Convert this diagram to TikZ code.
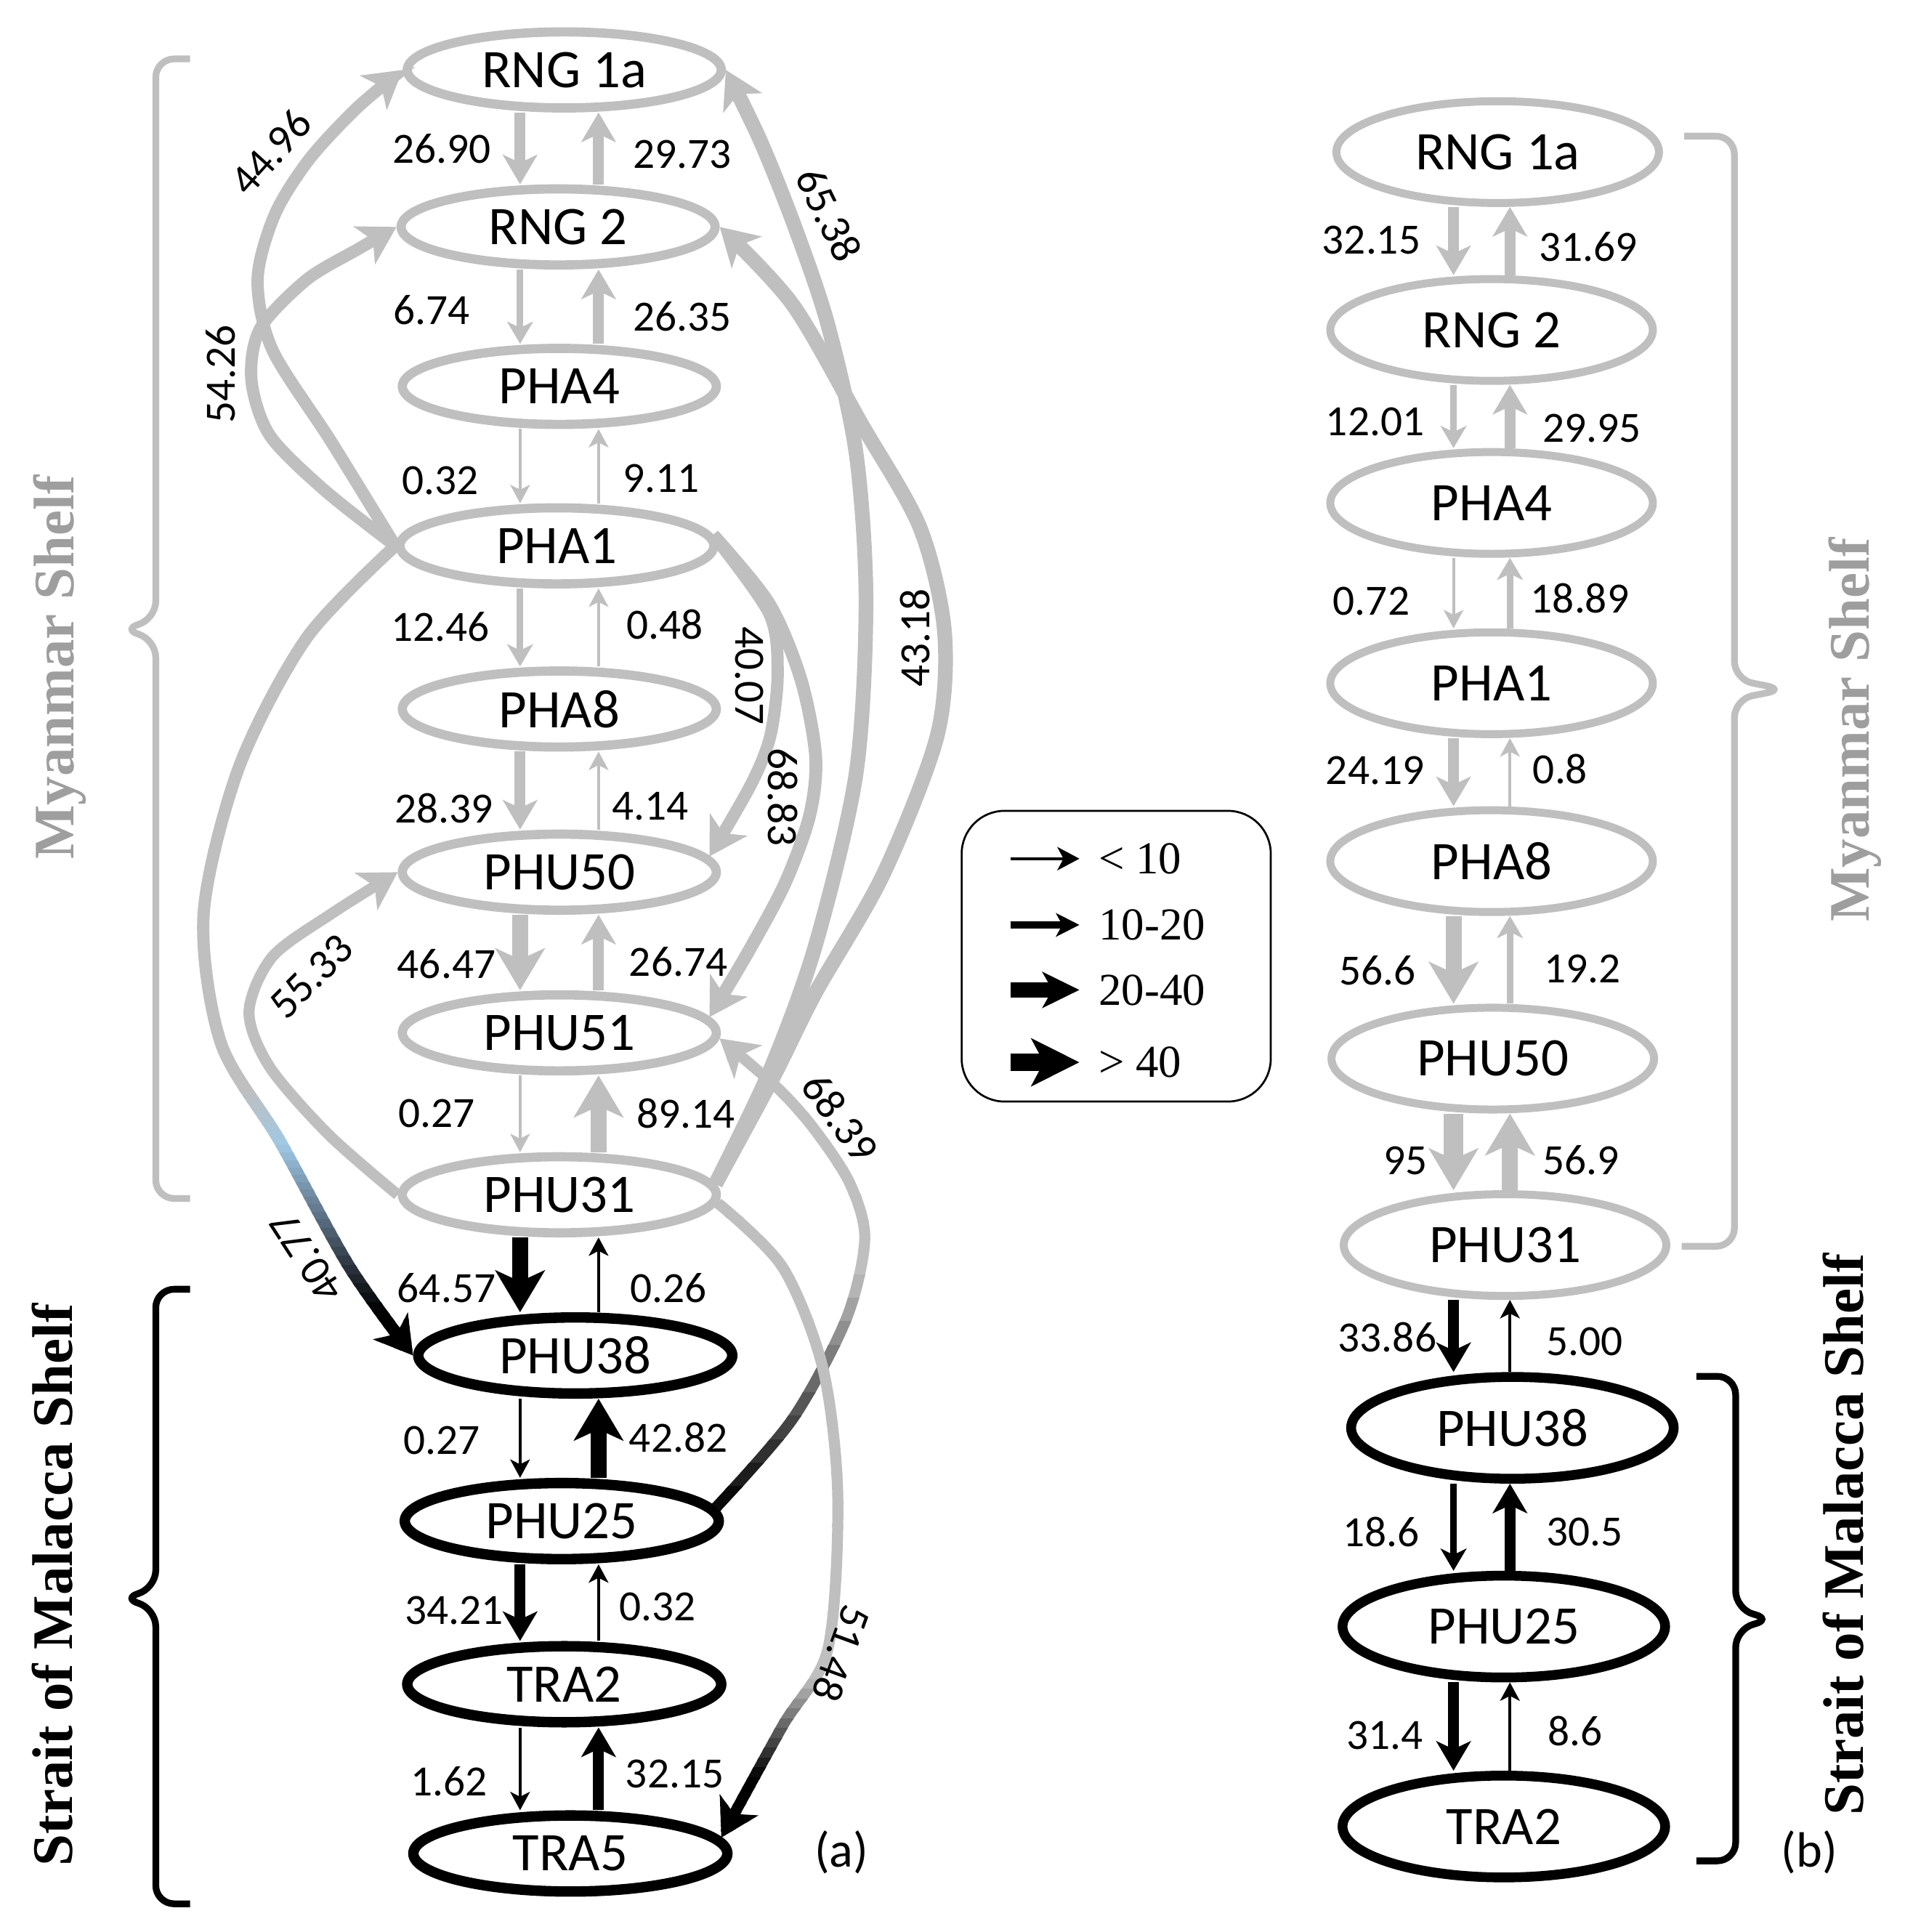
\documentclass[tikz,border=0pt]{standalone}
\usepackage{fontspec}
\setmainfont{Carlito}
\newfontfamily\seriffont{Liberation Serif}
\usetikzlibrary{shapes.geometric,arrows.meta}

\definecolor{shelfgrey}{RGB}{191,191,191}
\definecolor{titlegrey}{RGB}{158,158,158}
\definecolor{paleblue}{RGB}{160,200,228}
\definecolor{duskblue}{RGB}{90,110,130}

% curve whose colour changes from top to bottom (bands y0/y1/colour0/colour1)
\newcommand\fadeflow[3]{%
  \foreach \ya/\yb/\ca/\cb in {#3}{%
    \foreach \k in {0,...,9}{%
      \pgfmathsetmacro\ylo{\ya+(\yb-\ya)*\k/10-1}%
      \pgfmathsetmacro\yhi{\ya+(\yb-\ya)*(\k+1)/10+1}%
      \pgfmathtruncatemacro\pc{95-10*\k}%
      \begin{scope}
        \clip (0,\ylo) rectangle (1553,\yhi);
        \draw[#1, draw=\ca!\pc!\cb] #2;
      \end{scope}%
    }%
  }%
}

\tikzset{
  site/.style={ellipse, draw=shelfgrey, line width=0.75mm, minimum width=25.6mm, minimum height=6.2mm, inner sep=0pt, font=\fontsize{12.6}{14}\selectfont},
  malacca/.style={draw=black, line width=0.85mm},
  bsite/.style={site, line width=0.65mm, minimum width=26.3mm, minimum height=8.3mm},
  bmalacca/.style={draw=black, line width=0.8mm},
  num/.style={inner sep=0pt, font=\fontsize{10}{12}\selectfont},
  fluxa/.style={line width=0.24mm, -{Stealth[length=1.5mm, width=1.6mm, inset=0.4mm]}},
  fluxb/.style={line width=0.55mm, -{Stealth[length=1.8mm, width=2.1mm, inset=0.5mm]}},
  fluxc/.style={line width=0.9mm, -{Stealth[length=2.4mm, width=2.8mm, inset=0.65mm]}},
  fluxd/.style={line width=1.3mm, -{Stealth[length=3.4mm, width=4mm, inset=0.9mm]}},
  curveflow/.style={shelfgrey, line width=1mm, -{Stealth[length=3mm, width=3.5mm, inset=0.8mm]}},
  shelf/.style={inner sep=0pt, rotate=90, anchor=base, font=\seriffont\bfseries\fontsize{13.3}{16}\selectfont},
  shelfbrace/.style={line width=0.55mm, rounded corners=1.5mm},
  legtext/.style={inner sep=0pt, anchor=west, font=\seriffont\fontsize{10.6}{12}\selectfont},
}

\begin{document}
\begin{tikzpicture}[x=0.1mm, y=-0.1mm]
	\path[use as bounding box, fill=white] (0,0) rectangle (1553,1575);

	% brackets and shelf names
	\draw[shelfbrace, shelfgrey] (155,48) -- (127,48) -- (127,505) -- (99,513) -- (127,521) -- (127,977) -- (155,977);
	\draw[shelfbrace] (155,1051) -- (127,1051) -- (127,1295) -- (99,1303) -- (127,1311) -- (127,1552) -- (155,1552);
	\draw[shelfbrace, shelfgrey] (1373,111) -- (1414,111) -- (1414,554) -- (1455,562) -- (1414,570) -- (1414,1016) -- (1371,1016);
	\draw[shelfbrace] (1383,1122) -- (1415,1122) -- (1415,1312) -- (1445,1320) -- (1415,1328) -- (1415,1517) -- (1383,1517);
	\node[shelf, text=titlegrey] (mya) at (60,544) {Myanmar Shelf};
	\node[shelf] (mala) at (59,1292) {Strait of Malacca Shelf};
	\node[shelf, text=titlegrey] (myb) at (1524,595) {Myanmar Shelf};
	\node[shelf] (malb) at (1519,1251) {Strait of Malacca Shelf};

	% (a)
	\node[site] (RNG1a) at (460,57) {RNG 1a};
	\node[site] (RNG2) at (455,185) {RNG 2};
	\node[site] (PHA4) at (456,315) {PHA4};
	\node[site] (PHA1) at (454,445) {PHA1};
	\node[site] (PHA8) at (456,578) {PHA8};
	\node[site] (PHU50) at (456,711) {PHU50};
	\node[site] (PHU51) at (456,842) {PHU51};
	\node[site] (PHU31) at (456,974) {PHU31};
	\node[site, malacca] (PHU38) at (469,1105) {PHU38};
	\node[site, malacca] (PHU25) at (458,1240) {PHU25};
	\node[site, malacca] (TRA2) at (460,1373) {TRA2};
	\node[site, malacca] (TRA5) at (465,1511) {TRA5};
	\coordinate (dnA) at (424,0);
	\coordinate (upA) at (488,0);

	\draw[fluxc, shelfgrey] (RNG1a.south -| dnA) -- (RNG2.north -| dnA);
	\draw[fluxc, shelfgrey] (RNG2.north -| upA) -- (RNG1a.south -| upA);
	\draw[fluxb, shelfgrey] (RNG2.south -| dnA) -- (PHA4.north -| dnA);
	\draw[fluxc, shelfgrey] (PHA4.north -| upA) -- (RNG2.south -| upA);
	\draw[fluxa, shelfgrey] (PHA4.south -| dnA) -- (PHA1.north -| dnA);
	\draw[fluxa, shelfgrey] (PHA1.north -| upA) -- (PHA4.south -| upA);
	\draw[fluxb, shelfgrey] (PHA1.south -| dnA) -- (PHA8.north -| dnA);
	\draw[fluxa, shelfgrey] (PHA8.north -| upA) -- (PHA1.south -| upA);
	\draw[fluxc, shelfgrey] (PHA8.south -| dnA) -- (PHU50.north -| dnA);
	\draw[fluxa, shelfgrey] (PHU50.north -| upA) -- (PHA8.south -| upA);
	\draw[fluxd, shelfgrey] (PHU50.south -| dnA) -- (PHU51.north -| dnA);
	\draw[fluxc, shelfgrey] (PHU51.north -| upA) -- (PHU50.south -| upA);
	\draw[fluxa, shelfgrey] (PHU51.south -| dnA) -- (PHU31.north -| dnA);
	\draw[fluxd, shelfgrey] (PHU31.north -| upA) -- (PHU51.south -| upA);
	\draw[fluxd] (PHU31.south -| dnA) -- (PHU38.north -| dnA);
	\draw[fluxa] (PHU38.north -| upA) -- (PHU31.south -| upA);
	\draw[fluxa] (PHU38.south -| dnA) -- (PHU25.north -| dnA);
	\draw[fluxd] (PHU25.north -| upA) -- (PHU38.south -| upA);
	\draw[fluxc] (PHU25.south -| dnA) -- (TRA2.north -| dnA);
	\draw[fluxa] (TRA2.north -| upA) -- (PHU25.south -| upA);
	\draw[fluxa] (TRA2.south -| dnA) -- (TRA5.north -| dnA);
	\draw[fluxc] (TRA5.north -| upA) -- (TRA2.south -| upA);

	% long flows of (a)
	\draw[curveflow] plot[smooth] coordinates {(PHA1.west) (270,360) (222,285) (210,228) (224,175) (252,130) (291,88) (RNG1a.west)};
	\draw[curveflow] plot[smooth] coordinates {(PHA1.west) (265,400) (220,355) (205,310) (212,268) (250,228) (292,203) (RNG2.west)};
	\draw[curveflow, line width=0.9mm] plot[smooth] coordinates {(PHU31.west) (268,925) (220,870) (203,825) (222,780) (270,745) (PHU50.west)};
	\draw[curveflow] plot[smooth] coordinates {(PHA1.4) (627,500) (634,548) (628,600) (612,640) (PHU50.6)};
	\draw[curveflow, line width=1.05mm] plot[smooth] coordinates {(PHA1.4) (627,492) (653,554) (665,617) (660,665) (640,720) (610,776) (PHU51.6)};
	\draw[curveflow, line width=1.2mm] plot[smooth] coordinates {(PHU31.4) (628,872) (665,770) (698,630) (706,490) (698,370) (675,265) (648,185) (620,115) (RNG1a.east)};
	\draw[curveflow, line width=1.2mm] plot[smooth] coordinates {(PHU31.4) (631,877) (665,809) (720,713) (764,600) (770,515) (750,430) (702,345) (646,248) (RNG2.east)};
	\fadeflow{curveflow}{plot[smooth] coordinates {(PHA1.west) (250,520) (195,625) (166,745) (180,850) (228,930) (285,1033) (PHU38.west)}}{400/890/shelfgrey/shelfgrey, 890/935/shelfgrey/paleblue, 935/995/paleblue/duskblue, 995/1070/duskblue/black, 1070/1130/black/black}
	\fadeflow{curveflow, line width=0.9mm}{plot[smooth] coordinates {(PHU25.5) (646,1157) (690,1075) (705,1010) (693,965) (665,922) (635,888) (PHU51.-2)}}{820/1040/shelfgrey/shelfgrey, 1040/1232/shelfgrey/black, 1232/1262/black/black}
	\fadeflow{curveflow, line width=0.9mm}{plot[smooth] coordinates {(PHU31.-3) (638,1033) (671,1116) (683,1220) (675,1344) (638,1407) (TRA5.6)}}{950/1370/shelfgrey/shelfgrey, 1370/1450/shelfgrey/black, 1450/1520/black/black}

	\node[num, rotate=48] (c4496) at (221,124) {44.96};
	\node[num, rotate=90] (c5426) at (180,305) {54.26};
	\node[num, rotate=-64] (c6538) at (676,175) {65.38};
	\node[num, rotate=90] (c4318) at (746,520) {43.18};
	\node[num, rotate=-90] (c4007) at (611,551) {40.07};
	\node[num, rotate=-90] (c6883) at (638,650) {68.83};
	\node[num, rotate=45] (c5533) at (254,796) {55.33};
	\node[num, rotate=123] (c4077) at (250,1025) {40.77};
	\node[num, rotate=-54] (c6839) at (685,911) {68.39};
	\node[num, rotate=-110] (c5148) at (686,1348) {51.48};

	\node[num] (la1) at (360,121) {26.90};
	\node[num] (ra1) at (556,126) {29.73};
	\node[num] (la2) at (352,253) {6.74};
	\node[num] (ra2) at (556,258) {26.35};
	\node[num] (la3) at (359,392) {0.32};
	\node[num] (ra3) at (539,390) {9.11};
	\node[num] (la4) at (359,511) {12.46};
	\node[num] (ra4) at (542,509) {0.48};
	\node[num] (la5) at (362,659) {28.39};
	\node[num] (ra5) at (530,657) {4.14};
	\node[num] (la6) at (364,786) {46.47};
	\node[num] (ra6) at (553,784) {26.74};
	\node[num] (la7) at (356,908) {0.27};
	\node[num] (ra7) at (559,908) {89.14};
	\node[num] (la8) at (364,1050) {64.57};
	\node[num] (ra8) at (545,1050) {0.26};
	\node[num] (la9) at (360,1174) {0.27};
	\node[num] (ra9) at (553,1172) {42.82};
	\node[num] (la10) at (370,1313) {34.21};
	\node[num] (ra10) at (536,1310) {0.32};
	\node[num] (la11) at (366,1452) {1.62};
	\node[num] (ra11) at (550,1446) {32.15};
	\node[inner sep=0pt, font=\fontsize{11.5}{13}\selectfont] (taga) at (686,1510) {(a)};

	% legend
	\draw[rounded corners=3.5mm, line width=0.16mm] (784,661) rectangle (1036,898);
	\node[legtext] (lg1) at (895,700) {< 10};
	\node[legtext] (lg2) at (895,754) {10-20};
	\node[legtext] (lg3) at (895,807) {20-40};
	\node[legtext] (lg4) at (895,866) {> 40};
	\draw[line width=0.24mm, -{Stealth[length=1.8mm, width=1.9mm, inset=0.5mm]}] ([xshift=-7.1mm]lg1.west) -- ([xshift=-1.5mm]lg1.west);
	\draw[line width=0.6mm, -{Stealth[length=1.9mm, width=1.9mm, inset=0.5mm]}] ([xshift=-7.1mm]lg2.west) -- ([xshift=-1.5mm]lg2.west);
	\draw[line width=1.2mm, -{Stealth[length=3mm, width=2.9mm, inset=0.8mm]}] ([xshift=-7.1mm]lg3.west) -- ([xshift=-1.5mm]lg3.west);
	\draw[line width=1.4mm, -{Stealth[length=3.9mm, width=3.85mm, inset=1mm]}] ([xshift=-7.1mm]lg4.west) -- ([xshift=-1.5mm]lg4.west);

	% (b)
	\node[bsite] (bRNG1a) at (1221,124) {RNG 1a};
	\node[bsite] (bRNG2) at (1216,269) {RNG 2};
	\node[bsite] (bPHA4) at (1216,410) {PHA4};
	\node[bsite] (bPHA1) at (1216,557) {PHA1};
	\node[bsite] (bPHA8) at (1216,702) {PHA8};
	\node[bsite] (bPHU50) at (1217,863) {PHU50};
	\node[bsite] (bPHU31) at (1227,1015) {PHU31};
	\node[bsite, bmalacca] (bPHU38) at (1233,1164) {PHU38};
	\node[bsite, bmalacca] (bPHU25) at (1226,1326) {PHU25};
	\node[bsite, bmalacca] (bTRA2) at (1226,1489) {TRA2};
	\coordinate (dnB) at (1185,0);
	\coordinate (upB) at (1231,0);

	\draw[fluxc, shelfgrey] (bRNG1a.south -| dnB) -- (bRNG2.north -| dnB);
	\draw[fluxc, shelfgrey] (bRNG2.north -| upB) -- (bRNG1a.south -| upB);
	\draw[fluxb, shelfgrey] (bRNG2.south -| dnB) -- (bPHA4.north -| dnB);
	\draw[fluxc, shelfgrey] (bPHA4.north -| upB) -- (bRNG2.south -| upB);
	\draw[fluxa, shelfgrey] (bPHA4.south -| dnB) -- (bPHA1.north -| dnB);
	\draw[fluxb, shelfgrey] (bPHA1.north -| upB) -- (bPHA4.south -| upB);
	\draw[fluxc, shelfgrey] (bPHA1.south -| dnB) -- (bPHA8.north -| dnB);
	\draw[fluxa, shelfgrey] (bPHA8.north -| upB) -- (bPHA1.south -| upB);
	\draw[fluxd, shelfgrey] (bPHA8.south -| dnB) -- (bPHU50.north -| dnB);
	\draw[fluxb, shelfgrey] (bPHU50.north -| upB) -- (bPHA8.south -| upB);
	\draw[fluxd, shelfgrey, line width=1.6mm] (bPHU50.south -| dnB) -- (bPHU31.north -| dnB);
	\draw[fluxd, shelfgrey] (bPHU31.north -| upB) -- (bPHU50.south -| upB);
	\draw[fluxc] (bPHU31.south -| dnB) -- (bPHU38.north -| dnB);
	\draw[fluxa] (bPHU38.north -| upB) -- (bPHU31.south -| upB);
	\draw[fluxb] (bPHU38.south -| dnB) -- (bPHU25.north -| dnB);
	\draw[fluxc] (bPHU25.north -| upB) -- (bPHU38.south -| upB);
	\draw[fluxc] (bPHU25.south -| dnB) -- (bTRA2.north -| dnB);
	\draw[fluxa] (bTRA2.north -| upB) -- (bPHU25.south -| upB);

	\node[num] (lb1) at (1118,196) {32.15};
	\node[num] (rb1) at (1295,201) {31.69};
	\node[num] (lb2) at (1121,344) {12.01};
	\node[num] (rb2) at (1298,349) {29.95};
	\node[num] (lb3) at (1118,490) {0.72};
	\node[num] (rb3) at (1288,488) {18.89};
	\node[num] (lb4) at (1121,628) {24.19};
	\node[num] (rb4) at (1272,627) {0.8};
	\node[num] (lb5) at (1123,791) {56.6};
	\node[num] (rb5) at (1290,790) {19.2};
	\node[num] (lb6) at (1146,946) {95};
	\node[num] (rb6) at (1289,946) {56.9};
	\node[num] (lb7) at (1131,1090) {33.86};
	\node[num] (rb7) at (1292,1094) {5.00};
	\node[num] (lb8) at (1126,1249) {18.6};
	\node[num] (rb8) at (1292,1249) {30.5};
	\node[num] (lb9) at (1129,1415) {31.4};
	\node[num] (rb9) at (1284,1411) {8.6};
	\node[inner sep=0pt, font=\fontsize{11.5}{13}\selectfont] (tagb) at (1475,1510) {(b)};
\end{tikzpicture}
\end{document}
